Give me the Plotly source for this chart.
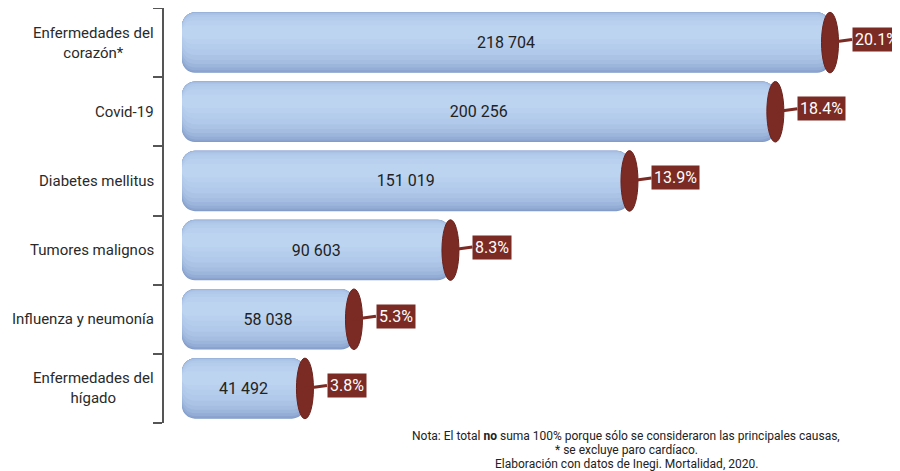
import plotly.graph_objects as go

# data
causas = ["Enfermedades del corazón", "Covid-19", "Diabetes mellitus",
          "Tumores malignos", "Influenza y neumonía", "Enfermedades del hígado"]
etiquetas = ["Enfermedades del<br>corazón*", "Covid-19", "Diabetes mellitus",
             "Tumores malignos", "Influenza y neumonía", "Enfermedades del<br>hígado"]
defunciones = [218704, 200256, 151019, 90603, 58038, 41492]
porcentajes = [20.1, 18.4, 13.9, 8.3, 5.3, 3.8]
nota = ["Nota: El total <b>no</b> suma 100% porque sólo se consideraron las principales causas,",
        "* se excluye paro cardíaco.",
        "Elaboración con datos de Inegi. Mortalidad, 2020."]

ROJO = "#7b2b24"
FUENTE = "Roboto"

fig = go.Figure()

# cylinder body: nested bands from dark edge to light highlight (bottom, top, colour).
# Bars go from the value back to 0, so the rounded corners end up on the left.
bandas = [
    (-0.4375, 0.4375, "#809ac6"),
    (-0.425, 0.4375, "#8aa4cf"),
    (-0.40, 0.4375, "#93add6"),
    (-0.36, 0.435, "#9cb5db"),
    (-0.31, 0.43, "#a4bde1"),
    (-0.25, 0.42, "#abc4e6"),
    (-0.18, 0.40, "#b1c9ea"),
    (-0.10, 0.37, "#b5cdec"),
    (-0.02, 0.32, "#b9d1ee"),
    (0.05, 0.25, "#bcd4f0"),
]
for lo, hi, col in bandas:
    fig.add_trace(go.Bar(
        y=causas, x=[-v for v in defunciones], base=defunciones,
        orientation="h", width=hi - lo, offset=lo,
        marker=dict(color=col, cornerradius=13, line_width=0, opacity=1),
        hoverinfo="skip", showlegend=False,
    ))

# transparent full-height bar that only carries the value labels
fig.add_trace(go.Bar(
    y=causas, x=[-v for v in defunciones], base=defunciones,
    orientation="h", width=0.875, offset=-0.4375,
    marker=dict(color="rgba(0,0,0,0)", line_width=0),
    text=[f"{v:,}".replace(",", " ") for v in defunciones],
    textposition="inside", insidetextanchor="middle", textangle=0,
    constraintext="none", textfont=dict(size=16, color="#222", family=FUENTE),
    hovertemplate="%{y}: %{text}<extra></extra>", showlegend=False,
))

# dark red cap at the end of each cylinder
for c, v in zip(causas, defunciones):
    fig.add_shape(
        type="circle", xref="x", yref="y",
        xsizemode="pixel", xanchor=v, x0=-8.5, x1=8.5,
        ysizemode="pixel", yanchor=c, y0=-30.3, y1=30.3,
        fillcolor=ROJO, line=dict(color="#6a221c", width=1),
    )

# percentage boxes with a short connector
for c, v, p in zip(causas, defunciones, porcentajes):
    fig.add_annotation(
        x=v, y=c, xref="x", yref="y",
        text=f"{p}%", showarrow=True, arrowhead=0, arrowwidth=3,
        arrowcolor=ROJO, ax=22, ay=-3, xanchor="left", yanchor="middle",
        bgcolor=ROJO, borderpad=2,
        font=dict(size=16, color="white", family=FUENTE),
    )

# category labels, centred lines
for c, t in zip(causas, etiquetas):
    fig.add_annotation(
        x=0, y=c, xref="paper", yref="y", xanchor="right", xshift=-8,
        text=t, showarrow=False, align="center",
        font=dict(size=15, color="#2a2a2a", family=FUENTE),
    )

# footnote, one line per annotation to keep the spacing tight
for k, linea in enumerate(nota):
    fig.add_annotation(
        x=0.628, y=0, xref="paper", yref="paper", xanchor="center", yanchor="middle",
        yshift=-13 - 14 * k, showarrow=False, text=linea,
        font=dict(size=12, color="#222", family=FUENTE),
    )

# the page adds an 8px margin, so the figure is 8px smaller than the window
fig.update_layout(
    width=892, height=463,
    margin=dict(l=156, r=0, t=0, b=48),
    plot_bgcolor="white", paper_bgcolor="white",
    barmode="overlay", font=dict(family=FUENTE),
    xaxis=dict(range=[-6075, 242325], visible=False),
    yaxis=dict(
        type="category", categoryorder="array", categoryarray=causas[::-1],
        range=[-0.5, 5.5], showline=True, linecolor="#555", linewidth=1.5,
        ticks="outside", tickson="boundaries", ticklen=9, tickwidth=1.5,
        tickcolor="#555", showticklabels=False, showgrid=False, zeroline=False,
    ),
)

fig.write_html("out.html")
